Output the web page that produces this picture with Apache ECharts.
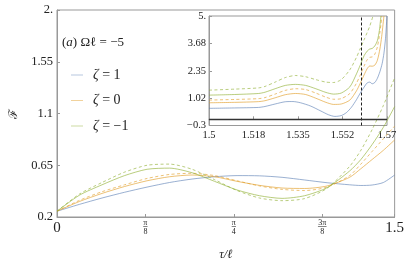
<!DOCTYPE html>
<html><head><meta charset="utf-8">
<script src="https://cdn.jsdelivr.net/npm/echarts@6/dist/echarts.min.js"></script>
<style>html,body{margin:0;padding:0;background:#fff}#c{width:407px;height:266px}</style>
</head><body><div id="c"></div>
<script>
// ---- main plot data ----
const mainX = [0,0.1,0.2,0.3,0.4,0.5,0.6,0.7,0.8,0.9,1.0,1.1,1.2,1.3,1.35,1.4,1.45,1.5];
const blueMain      = [0.25,0.31,0.365,0.415,0.46,0.50,0.53,0.55,0.56,0.558,0.545,0.522,0.498,0.48,0.474,0.478,0.50,0.565];
const orangeMain    = [0.25,0.335,0.405,0.465,0.515,0.55,0.565,0.55,0.51,0.475,0.452,0.448,0.47,0.545,0.62,0.70,0.78,0.87];
const orangeDashMain= [0.25,0.345,0.42,0.48,0.535,0.57,0.58,0.56,0.515,0.47,0.44,0.43,0.46,0.56,0.66,0.77,0.88,0.99];
const greenMain     = [0.25,0.39,0.48,0.56,0.615,0.625,0.585,0.51,0.435,0.385,0.362,0.385,0.455,0.60,0.70,0.83,0.98,1.16];
const greenDashMain = [0.25,0.40,0.50,0.59,0.65,0.66,0.615,0.525,0.43,0.365,0.342,0.36,0.45,0.64,0.78,0.96,1.17,1.41];
const mainXTicks = [0, Math.PI/8, Math.PI/4, 3*Math.PI/8, 1.5];
const mainXTickLabels = ['0','π|8','π|4','3π|8','1.5'];
const mainYTicks = [0.2,0.65,1.1,1.55,2];
const mainYTickLabels = ['0.2','0.65','1.1','1.55','2.'];
// ---- inset data ----
const insetBlue = [[1.5,0.53],[1.51,0.55],[1.5195,0.575],[1.522,0.62],[1.526,0.74],[1.530,0.85],[1.533,0.86],[1.536,0.80],[1.540,0.64],[1.544,0.40],[1.547,0.22],[1.5495,0.14],[1.552,0.18],[1.554,0.32],[1.556,0.58],[1.558,0.95],[1.5594,1.25],[1.561,1.56],[1.5622,1.76],[1.5632,1.80],[1.5642,1.72],[1.5652,1.78],[1.5662,1.98],[1.5672,2.3],[1.5681,2.7],[1.5688,3.2],[1.5694,3.9],[1.57,5.0]];
const insetOrange = [[1.5,0.80],[1.51,0.82],[1.5195,0.855],[1.522,0.9],[1.526,1.04],[1.530,1.19],[1.534,1.25],[1.538,1.2],[1.542,1.02],[1.546,0.82],[1.549,0.72],[1.552,0.74],[1.5554,0.93],[1.558,1.38],[1.5594,1.72],[1.561,2.15],[1.5622,2.45],[1.5632,2.58],[1.5642,2.57],[1.5652,2.62],[1.5662,2.85],[1.5672,3.4],[1.5679,4.0],[1.5688,5.0]];
const insetOrangeDash = [[1.5,0.93],[1.51,0.96],[1.5195,1.0],[1.522,1.05],[1.526,1.22],[1.530,1.40],[1.534,1.48],[1.538,1.44],[1.542,1.27],[1.546,1.07],[1.549,0.97],[1.552,1.0],[1.5554,1.25],[1.558,1.75],[1.5594,2.12],[1.561,2.58],[1.5622,2.88],[1.5632,3.0],[1.5642,3.02],[1.5652,3.15],[1.5662,3.5],[1.5672,4.2],[1.568,5.0]];
const insetGreen = [[1.5,1.17],[1.51,1.2],[1.5195,1.25],[1.522,1.31],[1.526,1.48],[1.530,1.64],[1.534,1.69],[1.538,1.64],[1.542,1.48],[1.546,1.30],[1.549,1.22],[1.552,1.27],[1.5554,1.57],[1.558,2.2],[1.5594,2.6],[1.561,3.08],[1.5622,3.3],[1.5632,3.4],[1.5642,3.43],[1.5652,3.55],[1.5662,3.8],[1.567,4.3],[1.5676,5.0]];
const insetGreenDash = [[1.5,1.41],[1.51,1.46],[1.5195,1.52],[1.522,1.59],[1.526,1.80],[1.530,2.02],[1.534,2.12],[1.538,2.06],[1.542,1.92],[1.546,1.80],[1.549,1.78],[1.552,1.92],[1.5554,2.4],[1.558,3.0],[1.5594,3.4],[1.561,3.85],[1.5622,4.2],[1.5632,4.5],[1.5645,5.0]];
const insetXTicks = [1.5,1.5175,1.535,1.5525,1.57];
const insetXTickLabels = ['1.5','1.518','1.535','1.552','1.57'];
const insetYTicks = [-0.3,1.02,2.35,3.68,5];
const insetYTickLabels = ['−0.3','1.02','2.35','3.68','5.'];
const insetMarkX = 1.5611;
const insetZeroY = 0;
const legendNames = ['ζ = 1','ζ = 0','ζ = −1'];

const BLUE='#5E81B5', ORANGE='#E19C24', GREEN='#8FB032';
const SERIF = 'Liberation Serif';
const chart = echarts.init(document.getElementById('c'));

function ln(name, xi, yi, data, color, dashed){
  return {name, type:'line', xAxisIndex:xi, yAxisIndex:yi, data, showSymbol:false, smooth:0.25,
    silent:true, animation:false,
    lineStyle:{color, width:0.9, opacity:0.7, type: dashed?[3,2.5]:'solid'}, itemStyle:{color}};
}
const pairs = (ys)=> mainX.map((x,i)=>[x,ys[i]]);

const series = [
  ln(legendNames[0],0,0,pairs(blueMain),BLUE,false),
  ln(legendNames[1],0,0,pairs(orangeMain),ORANGE,false),
  ln('ζ = 0 (dashed)',0,0,pairs(orangeDashMain),ORANGE,true),
  ln(legendNames[2],0,0,pairs(greenMain),GREEN,false),
  ln('ζ = −1 (dashed)',0,0,pairs(greenDashMain),GREEN,true),
  ln(legendNames[0],1,1,insetBlue,BLUE,false),
  ln(legendNames[1],1,1,insetOrange,ORANGE,false),
  ln('ζ = 0 (dashed)',1,1,insetOrangeDash,ORANGE,true),
  ln(legendNames[2],1,1,insetGreen,GREEN,false),
  ln('ζ = −1 (dashed)',1,1,insetGreenDash,GREEN,true),
];
series[5].markLine = {silent:true, symbol:'none', animation:false, label:{show:false},
  data:[
    {xAxis: insetMarkX, lineStyle:{color:'#222', type:[3,2], width:1, opacity:1}},
    {yAxis: insetZeroY, lineStyle:{color:'#333', type:'solid', width:1.4, opacity:1}}
  ]};

const fracRich = {
  n:{fontFamily:SERIF, fontSize:8, lineHeight:6, color:'#222', align:'center'},
  b:{fontFamily:'DejaVu Sans', fontSize:7, lineHeight:3, color:'#333', align:'center'},
  d:{fontFamily:SERIF, fontSize:8, lineHeight:6, color:'#222', align:'center'},
  big:{fontFamily:SERIF, fontSize:15, lineHeight:16, color:'#222'}
};

const option = {
  animation:false,
  backgroundColor:'#fff',
  title:{text:'({i|a}) Ωℓ = −5', left:62, top:36, padding:0,
    textStyle:{fontFamily:SERIF, fontSize:13, fontWeight:'normal', color:'#222',
      rich:{i:{fontFamily:SERIF, fontStyle:'italic', fontSize:13, color:'#222'}}}},
  legend:{orient:'vertical', left:66, top:63, itemWidth:12, itemHeight:1, icon:'rect', itemGap:11.5,
    data: legendNames.map(n=>({name:n, itemStyle:{opacity:0.45}})),
    formatter: n => '{i|ζ}' + n.slice(1),
    textStyle:{fontFamily:SERIF, fontSize:14, color:'#222', lineHeight:14, padding:[0,0,0,5],
      rich:{i:{fontFamily:SERIF, fontStyle:'italic', fontSize:14, color:'#222'}}}},
  grid:[
    {left:47, top:10, width:350, height:215.7, show:true, borderColor:'#999', borderWidth:1, backgroundColor:'transparent'},
    {left:209, top:16, width:178, height:109.5, show:true, borderColor:'#999', borderWidth:1, backgroundColor:'transparent'}
  ],
  xAxis:[
    {type:'value', gridIndex:0, min:0, max:1.5, name:'τ/ℓ', nameLocation:'middle', nameGap:31,
      nameTextStyle:{fontFamily:SERIF, fontStyle:'italic', fontSize:12.5, color:'#222'},
      axisLine:{show:true, lineStyle:{color:'#999'}}, splitLine:{show:false},
      axisTick:{show:true, inside:true, length:3, lineStyle:{color:'#999'}, customValues: mainXTicks},
      axisLabel:{show:true, margin:3, customValues: mainXTicks, rich: fracRich, showMinLabel:true, showMaxLabel:true,
        formatter: v => { const i = mainXTicks.findIndex(t=>Math.abs(t-v)<1e-6); const s = mainXTickLabels[i];
          if (s.indexOf('|')<0) return '{big|'+s+'}'; const p=s.split('|');
          const bar = p[0].length>1 ? '──' : '─';
          return '{n|'+p[0]+'}\n{b|'+bar+'}\n{d|'+p[1]+'}'; }}},
    {type:'value', gridIndex:1, min:1.5, max:1.57,
      axisLine:{show:true, lineStyle:{color:'#999'}}, splitLine:{show:false},
      axisTick:{show:true, inside:true, length:3, lineStyle:{color:'#999'}, customValues: insetXTicks},
      axisLabel:{show:true, margin:4, customValues: insetXTicks, fontFamily:SERIF, fontSize:10.5, color:'#222',
        showMinLabel:true, showMaxLabel:true,
        formatter: v => insetXTickLabels[insetXTicks.findIndex(t=>Math.abs(t-v)<1e-6)]}}
  ],
  yAxis:[
    {type:'value', gridIndex:0, min:0.2, max:2, name:'ℱ', nameLocation:'middle', nameGap:37, nameRotate:90,
      nameTextStyle:{fontFamily:SERIF, fontSize:12, color:'#222'},
      axisLine:{show:true, lineStyle:{color:'#999'}}, splitLine:{show:false},
      axisTick:{show:true, inside:true, length:3, lineStyle:{color:'#999'}, customValues: mainYTicks},
      axisLabel:{show:true, margin:4, customValues: mainYTicks, fontFamily:SERIF, fontSize:12.5, color:'#222',
        showMinLabel:true, showMaxLabel:true,
        formatter: v => mainYTickLabels[mainYTicks.findIndex(t=>Math.abs(t-v)<1e-6)]}},
    {type:'value', gridIndex:1, min:-0.3, max:5,
      axisLine:{show:true, lineStyle:{color:'#999'}}, splitLine:{show:false},
      axisTick:{show:true, inside:true, length:3, lineStyle:{color:'#999'}, customValues: insetYTicks},
      axisLabel:{show:true, margin:3, customValues: insetYTicks, fontFamily:SERIF, fontSize:10.5, color:'#222',
        showMinLabel:true, showMaxLabel:true,
        formatter: v => insetYTickLabels[insetYTicks.findIndex(t=>Math.abs(t-v)<1e-6)]}}
  ],
  series
};
chart.setOption(option);
</script></body></html>
